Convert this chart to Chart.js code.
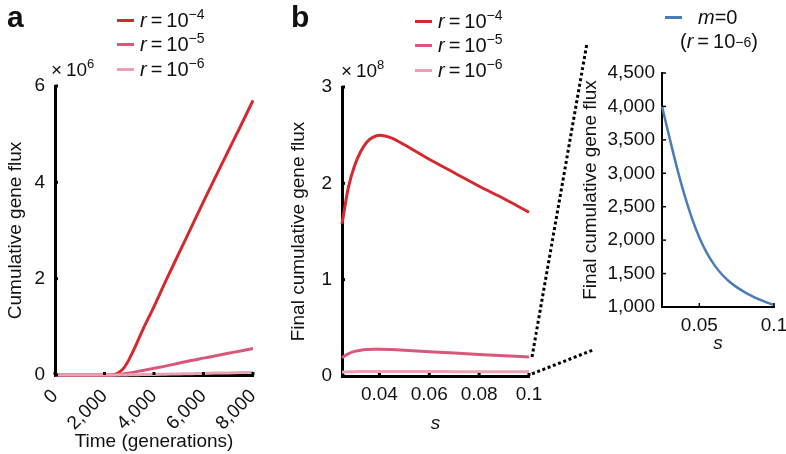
<!DOCTYPE html>
<html lang="en">
<head>
<meta charset="UTF-8">
<title>Cumulative gene flux</title>
<script src="https://cdn.jsdelivr.net/npm/chart.js"></script>
<style>
  body { margin: 0; background: #fff; font-family: "Liberation Sans", Arial, sans-serif; color: #111; }
  #wrap { position: relative; width: 786px; height: 454px; overflow: hidden; }
  canvas { position: absolute; top: 0; }
  .letter { position: absolute; font-weight: bold; font-size: 30px; line-height: 30px; }
  .mult { position: absolute; font-size: 19px; line-height: 19px; white-space: nowrap; }
  .legend { position: absolute; font-size: 20px; white-space: nowrap; }
  .legend .row { display: flex; align-items: center; height: 24.5px; }
  .legend .sw { width: 17px; height: 3px; margin-right: 6px; }
  sup { font-size: 13px; vertical-align: 8px; line-height: 0; }
  .legend sup { font-size: 14px; }
</style>
</head>
<body>
<div id="wrap">
  <canvas id="chartA" width="280" height="454" style="left:0"></canvas>
  <canvas id="chartB" width="320" height="454" style="left:280px"></canvas>
  <canvas id="chartC" width="240" height="360" style="left:570px"></canvas>

  <div class="letter" style="left:7px; top:2px">a</div>
  <div class="letter" style="left:291px; top:2px">b</div>

  <div class="mult" style="left:51px; top:60px">&times;&thinsp;10<sup>6</sup></div>
  <div class="mult" style="left:341px; top:61px">&times;&thinsp;10<sup>8</sup></div>

  <div class="legend" style="left:117px; top:8px">
    <div class="row"><span class="sw" style="background:#d42a2f"></span><span><i>r</i>&thinsp;=&thinsp;10<sup>&minus;4</sup></span></div>
    <div class="row"><span class="sw" style="background:#d8587a"></span><span><i>r</i>&thinsp;=&thinsp;10<sup>&minus;5</sup></span></div>
    <div class="row"><span class="sw" style="background:#eaa2b3"></span><span><i>r</i>&thinsp;=&thinsp;10<sup>&minus;6</sup></span></div>
  </div>
  <div class="legend" style="left:415px; top:9px">
    <div class="row"><span class="sw" style="background:#d42a2f"></span><span><i>r</i>&thinsp;=&thinsp;10<sup>&minus;4</sup></span></div>
    <div class="row"><span class="sw" style="background:#d8587a"></span><span><i>r</i>&thinsp;=&thinsp;10<sup>&minus;5</sup></span></div>
    <div class="row"><span class="sw" style="background:#eaa2b3"></span><span><i>r</i>&thinsp;=&thinsp;10<sup>&minus;6</sup></span></div>
  </div>
  <div class="legend" style="left:665px; top:5px">
    <div class="row"><span class="sw" style="background:#4a7db5; margin-right:16px"></span><span><i>m</i>=0</span></div>
    <div class="row" style="margin-left:15px">(<i>r</i>&thinsp;=&thinsp;10<sup>&minus;6</sup>)</div>
  </div>
</div>

<script>
// panel a: cumulative gene flux (x 10^6) over time
const timeGen = [0, 1000, 2000, 2200, 2400, 2600, 2800, 3000, 3200, 3400, 3600, 3800, 4000, 4500, 5000, 5500, 6000, 6500, 7000, 7500, 8000];
const fluxR4 = [0, 0, 0, 0, 0.01, 0.06, 0.16, 0.33, 0.54, 0.77, 1.0, 1.21, 1.42, 1.98, 2.52, 3.06, 3.6, 4.13, 4.65, 5.17, 5.7];
const fluxR5 = [0, 0, 0, 0, 0, 0.01, 0.025, 0.04, 0.06, 0.08, 0.1, 0.12, 0.14, 0.19, 0.245, 0.3, 0.35, 0.4, 0.45, 0.5, 0.55];
const fluxR6 = [0, 0, 0, 0, 0, 0, 0.001, 0.003, 0.005, 0.007, 0.009, 0.011, 0.012, 0.017, 0.022, 0.028, 0.033, 0.039, 0.044, 0.05, 0.055];
const timeTicks = [0, 2000, 4000, 6000, 8000];
const fluxTicks = [0, 2, 4, 6];

// panel b: final cumulative gene flux (x 10^8) against s
const sValues = [0.025, 0.0275, 0.03, 0.0325, 0.035, 0.0375, 0.04, 0.045, 0.05, 0.06, 0.07, 0.08, 0.09, 0.1];
const finalR4 = [1.58, 1.95, 2.18, 2.33, 2.43, 2.48, 2.5, 2.47, 2.4, 2.25, 2.11, 1.97, 1.84, 1.7];
const finalR5 = [0.19, 0.23, 0.255, 0.268, 0.275, 0.278, 0.278, 0.274, 0.268, 0.253, 0.238, 0.223, 0.21, 0.198];
const finalR6 = [0.04, 0.043, 0.045, 0.046, 0.047, 0.047, 0.047, 0.047, 0.046, 0.046, 0.045, 0.044, 0.044, 0.043];
const sTicks = [0.04, 0.06, 0.08, 0.1];
const finalTicks = [0, 1, 2, 3];

// inset: m = 0, r = 10^-6
const sInset = [0.025, 0.03, 0.035, 0.04, 0.045, 0.05, 0.055, 0.06, 0.065, 0.07, 0.075, 0.08, 0.085, 0.09, 0.095, 0.1];
const finalM0 = [4000, 3535, 3085, 2680, 2330, 2040, 1810, 1630, 1490, 1382, 1297, 1227, 1167, 1115, 1069, 1029];
const sInsetTicks = [0.05, 0.1];
const insetTicks = [1000, 1500, 2000, 2500, 3000, 3500, 4000, 4500];

const font = { family: '"Liberation Sans", Arial, sans-serif', size: 19 };
const txt = '#111';

function pts(xs, ys) {
  return xs.map((x, i) => ({ x: x, y: ys[i] }));
}

// small tick marks pointing into the plot
const innerTicks = {
  id: 'innerTicks',
  afterDraw(chart, args, opts) {
    const { ctx, chartArea } = chart;
    const x = chart.scales.x, y = chart.scales.y;
    ctx.save();
    ctx.strokeStyle = '#000';
    ctx.lineWidth = opts.width;
    x.ticks.forEach(t => {
      const px = x.getPixelForValue(t.value);
      ctx.beginPath();
      ctx.moveTo(px, chartArea.bottom);
      ctx.lineTo(px, chartArea.bottom - opts.len);
      ctx.stroke();
    });
    y.ticks.forEach(t => {
      const py = y.getPixelForValue(t.value);
      ctx.beginPath();
      ctx.moveTo(chartArea.left, py);
      ctx.lineTo(chartArea.left + opts.len, py);
      ctx.stroke();
    });
    ctx.restore();
  }
};

// dotted lines from panel b to the inset
const connector = {
  id: 'connector',
  afterDraw(chart) {
    const { ctx } = chart;
    const x = chart.scales.x, y = chart.scales.y;
    const last = sValues.length - 1;
    const px = x.getPixelForValue(sValues[last]) + 3;
    ctx.save();
    ctx.setLineDash([3, 2.6]);
    ctx.lineWidth = 3;
    ctx.strokeStyle = '#000';
    ctx.beginPath();
    ctx.moveTo(px, y.getPixelForValue(finalR5[last]));
    ctx.lineTo(307, 43);
    ctx.moveTo(px, y.getPixelForValue(finalR6[last]) + 2);
    ctx.lineTo(313, 350);
    ctx.stroke();
    ctx.restore();
  }
};

function lineSet(data, color, width) {
  return {
    data: data,
    borderColor: color,
    borderWidth: width,
    pointRadius: 0,
    fill: false,
    cubicInterpolationMode: 'monotone',
    clip: 4
  };
}

function axis(opts) {
  return {
    type: 'linear',
    min: opts.min,
    max: opts.max,
    afterBuildTicks: s => { s.ticks = opts.ticks.map(v => ({ value: v })); },
    afterFit: s => {
      if (opts.width) s.width = opts.width;
      if (opts.height) s.height = opts.height;
    },
    grid: { display: false, drawTicks: false },
    border: { color: '#000', width: opts.border },
    ticks: Object.assign({ font: font, color: txt, padding: opts.pad, callback: opts.fmt }, opts.rot ? { minRotation: 45, maxRotation: 45 } : {}),
    title: { display: true, text: opts.title, font: Object.assign({}, font, opts.italic ? { style: 'italic' } : {}), color: txt, padding: { top: opts.tpad, bottom: opts.tpad } }
  };
}

const common = {
  responsive: false,
  animation: false,
  events: [],
  plugins: { legend: { display: false }, tooltip: { enabled: false } }
};

new Chart(document.getElementById('chartA'), {
  type: 'line',
  data: {
    datasets: [
      lineSet(pts(timeGen, fluxR6), '#eaa2b3', 3),
      lineSet(pts(timeGen, fluxR5), '#d8587a', 3),
      lineSet(pts(timeGen, fluxR4), '#d42a2f', 3)
    ]
  },
  options: Object.assign({}, common, {
    layout: { padding: { top: 86, right: 27, left: 0, bottom: 0 } },
    plugins: Object.assign({}, common.plugins, { innerTicks: { len: 3, width: 3 } }),
    scales: {
      x: axis({ min: 0, max: 8000, ticks: timeTicks, height: 79, border: 3, pad: 10, rot: true,
        fmt: v => v.toLocaleString('en-US'), title: 'Time (generations)', tpad: 1 }),
      y: axis({ min: 0, max: 6, ticks: fluxTicks, width: 55, border: 3, pad: 10,
        fmt: v => String(v), title: 'Cumulative gene flux', tpad: 4 })
    }
  }),
  plugins: [innerTicks]
});

new Chart(document.getElementById('chartB'), {
  type: 'line',
  data: {
    datasets: [
      lineSet(pts(sValues, finalR6), '#eaa2b3', 3),
      lineSet(pts(sValues, finalR5), '#d8587a', 3),
      lineSet(pts(sValues, finalR4), '#d42a2f', 3)
    ]
  },
  options: Object.assign({}, common, {
    layout: { padding: { top: 87, right: 71, left: 0, bottom: 0 } },
    plugins: Object.assign({}, common.plugins, { innerTicks: { len: 3, width: 3 } }),
    scales: {
      x: axis({ min: 0.025, max: 0.1, ticks: sTicks, height: 78, border: 3, pad: 7,
        fmt: v => (v === 0.1 ? '0.1' : v.toFixed(2)), title: 's', italic: true, tpad: 19 }),
      y: axis({ min: 0, max: 3, ticks: finalTicks, width: 62, border: 3, pad: 10,
        fmt: v => String(v), title: 'Final cumulative gene flux', tpad: 7 })
    }
  }),
  plugins: [innerTicks, connector]
});

new Chart(document.getElementById('chartC'), {
  type: 'line',
  data: {
    datasets: [lineSet(pts(sInset, finalM0), '#4a7db5', 2.5)]
  },
  options: Object.assign({}, common, {
    layout: { padding: { top: 73, right: 36, left: 0, bottom: 0 } },
    plugins: Object.assign({}, common.plugins, { innerTicks: { len: 4, width: 1.5 } }),
    scales: {
      x: axis({ min: 0.025, max: 0.1, ticks: sInsetTicks, height: 53, border: 2, pad: 7,
        fmt: v => (v === 0.1 ? '0.1' : v.toFixed(2)), title: 's', italic: true, tpad: 5 }),
      y: axis({ min: 1000, max: 4500, ticks: insetTicks, width: 92, border: 2, pad: 7,
        fmt: v => v.toLocaleString('en-US'), title: 'Final cumulative gene flux', tpad: 9 })
    }
  }),
  plugins: [innerTicks]
});
</script>
</body>
</html>
